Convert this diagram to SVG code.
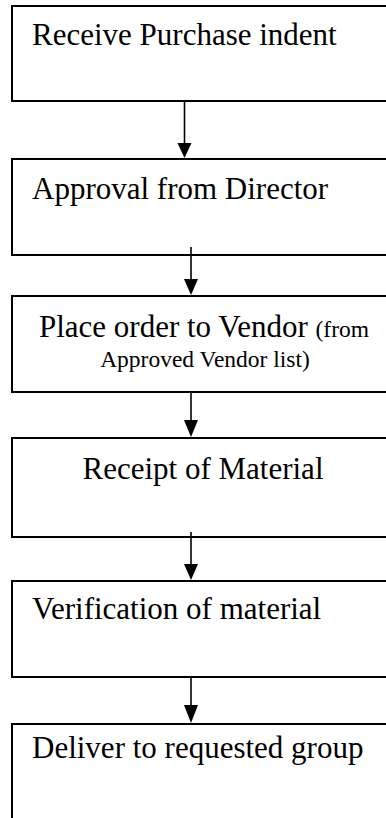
<svg xmlns="http://www.w3.org/2000/svg" width="386" height="818" viewBox="0 0 386 818">
  <style>
    .box { fill: #ffffff; stroke: #000000; stroke-width: 2; }
    .lbl { font-family: "Liberation Serif", "Times New Roman", serif; font-size: 31px; fill: #000000; }
    .small { font-size: 23.5px; }
    .mid { text-anchor: middle; }
    .link { stroke: #000000; stroke-width: 1.6; fill: none; }
    .head { fill: #000000; stroke: none; }
  </style>
  <rect width="386" height="818" fill="#ffffff"/>

  <g id="node-receive">
    <rect class="box" x="12" y="6" width="400" height="95"/>
    <text class="lbl" x="32" y="45">Receive Purchase indent</text>
  </g>

  <g id="node-approval">
    <rect class="box" x="12" y="159" width="400" height="96"/>
    <text class="lbl" x="32" y="199">Approval from Director</text>
  </g>

  <g id="node-order">
    <rect class="box" x="12" y="296" width="400" height="96"/>
    <text class="lbl mid" x="204" y="337">Place order to Vendor <tspan class="small">(from</tspan></text>
    <text class="lbl small mid" x="205" y="367">Approved Vendor list)</text>
  </g>

  <g id="node-receipt">
    <rect class="box" x="12" y="438" width="400" height="99"/>
    <text class="lbl mid" x="203" y="479">Receipt of Material</text>
  </g>

  <g id="node-verify">
    <rect class="box" x="12" y="581" width="400" height="96"/>
    <text class="lbl" x="32" y="619">Verification of material</text>
  </g>

  <g id="node-deliver">
    <rect class="box" x="12" y="724" width="400" height="120"/>
    <text class="lbl" x="32" y="758">Deliver to requested group</text>
  </g>

  <g id="connectors">
    <line class="link" x1="184.5" y1="101" x2="184.5" y2="145"/>
    <polygon class="head" points="177.5,143 191.5,143 184.5,158"/>

    <line class="link" x1="191" y1="247" x2="191" y2="281"/>
    <polygon class="head" points="184,279 198,279 191,295"/>

    <line class="link" x1="191" y1="392" x2="191" y2="422"/>
    <polygon class="head" points="184,420 198,420 191,437"/>

    <line class="link" x1="191" y1="532" x2="191" y2="566"/>
    <polygon class="head" points="184,564 198,564 191,580"/>

    <line class="link" x1="191" y1="677" x2="191" y2="707"/>
    <polygon class="head" points="184,705 198,705 191,723"/>
  </g>
</svg>
